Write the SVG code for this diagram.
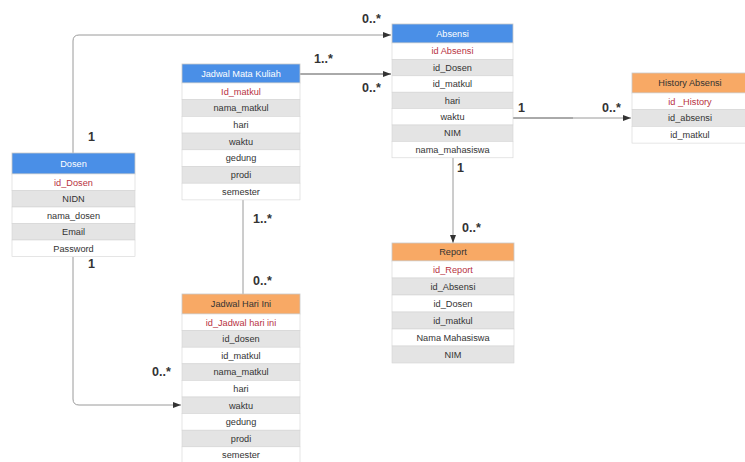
<svg xmlns="http://www.w3.org/2000/svg" width="745" height="462" viewBox="0 0 745 462">
<style>
  .hdrB{fill:#4a8fe7;stroke:#c8c8c8;stroke-width:0.8}
  .hdrO{fill:#f8a965;stroke:#c8c8c8;stroke-width:0.8}
  .rw{fill:#ffffff;stroke:#d4d4d4;stroke-width:0.6}
  .rg{fill:#e4e4e4;stroke:#d4d4d4;stroke-width:0.6}
  .t{font-family:"Liberation Sans",Arial,sans-serif;font-size:9.2px;fill:#333;text-anchor:middle}
  .k{fill:#b8323f}
  .hw{fill:#ffffff}
  .lbl{font-family:"Liberation Sans",Arial,sans-serif;font-size:12.5px;font-weight:bold;fill:#333}
  .ln{fill:none;stroke:#555;stroke-width:1}
  .lnl{fill:none;stroke:#9a9a9a;stroke-width:1}
</style>
<defs>
  <marker id="arr" viewBox="0 0 8 6" refX="8" refY="3" markerWidth="8" markerHeight="6" markerUnits="userSpaceOnUse" orient="auto">
    <path d="M0,0 L8,3 L0,6 Z" fill="#333"/>
  </marker>
</defs>
<rect width="745" height="462" fill="#ffffff"/>

<g id="connectors">
  <path class="lnl" d="M73,153 V41 Q73,35 79,35 H391" marker-end="url(#arr)"/>
  <path class="ln" d="M300,74 H391" marker-end="url(#arr)"/>
  <path class="ln" d="M513,118 H573"/>
  <path class="lnl" d="M573,118 H631" marker-end="url(#arr)"/>
  <path class="lnl" d="M453,158 V243" marker-end="url(#arr)"/>
  <path class="lnl" d="M243,200 V294"/>
  <path class="lnl" d="M73,257 V399 Q73,405 79,405 H181" marker-end="url(#arr)"/>
  <text class="lbl" x="362" y="23">0..*</text>
  <text class="lbl" x="314" y="63">1..*</text>
  <text class="lbl" x="362" y="92">0..*</text>
  <text class="lbl" x="88" y="141">1</text>
  <text class="lbl" x="518" y="112">1</text>
  <text class="lbl" x="602" y="112">0..*</text>
  <text class="lbl" x="457" y="172">1</text>
  <text class="lbl" x="462" y="232">0..*</text>
  <text class="lbl" x="253" y="223">1..*</text>
  <text class="lbl" x="253" y="285">0..*</text>
  <text class="lbl" x="88" y="268">1</text>
  <text class="lbl" x="152" y="376">0..*</text>
</g>

<g id="dosen">
  <rect class="hdrB" x="12" y="153" width="123" height="21"/>
  <text class="t hw" x="73.5" y="166.5">Dosen</text>
  <rect class="rw" x="12" y="174" width="123" height="16.5"/>
  <text class="t k" x="73.5" y="185.5">id_Dosen</text>
  <rect class="rg" x="12" y="190.5" width="123" height="16.5"/>
  <text class="t" x="73.5" y="202">NIDN</text>
  <rect class="rw" x="12" y="207" width="123" height="16.5"/>
  <text class="t" x="73.5" y="218.5">nama_dosen</text>
  <rect class="rg" x="12" y="223.5" width="123" height="16.5"/>
  <text class="t" x="73.5" y="235">Email</text>
  <rect class="rw" x="12" y="240" width="123" height="16.5"/>
  <text class="t" x="73.5" y="251.5">Password</text>
</g>

<g id="jadwal-mata-kuliah">
  <rect class="hdrB" x="182" y="64" width="118" height="19"/>
  <text class="t hw" x="241" y="76.5">Jadwal Mata Kuliah</text>
  <rect class="rw" x="182" y="83" width="118" height="16.7"/>
  <text class="t k" x="241" y="94.5">Id_matkul</text>
  <rect class="rg" x="182" y="99.7" width="118" height="16.7"/>
  <text class="t" x="241" y="111.2">nama_matkul</text>
  <rect class="rw" x="182" y="116.4" width="118" height="16.7"/>
  <text class="t" x="241" y="127.9">hari</text>
  <rect class="rg" x="182" y="133.1" width="118" height="16.7"/>
  <text class="t" x="241" y="144.6">waktu</text>
  <rect class="rw" x="182" y="149.8" width="118" height="16.7"/>
  <text class="t" x="241" y="161.3">gedung</text>
  <rect class="rg" x="182" y="166.5" width="118" height="16.7"/>
  <text class="t" x="241" y="178">prodi</text>
  <rect class="rw" x="182" y="183.2" width="118" height="16.7"/>
  <text class="t" x="241" y="194.7">semester</text>
</g>

<g id="absensi">
  <rect class="hdrB" x="392" y="24" width="121" height="19"/>
  <text class="t hw" x="452.5" y="36.5">Absensi</text>
  <rect class="rw" x="392" y="43" width="121" height="16.4"/>
  <text class="t k" x="452.5" y="54.4">id Absensi</text>
  <rect class="rg" x="392" y="59.4" width="121" height="16.4"/>
  <text class="t" x="452.5" y="70.8">id_Dosen</text>
  <rect class="rw" x="392" y="75.8" width="121" height="16.4"/>
  <text class="t" x="452.5" y="87.2">id_matkul</text>
  <rect class="rg" x="392" y="92.2" width="121" height="16.4"/>
  <text class="t" x="452.5" y="103.6">hari</text>
  <rect class="rw" x="392" y="108.6" width="121" height="16.4"/>
  <text class="t" x="452.5" y="120">waktu</text>
  <rect class="rg" x="392" y="125" width="121" height="16.4"/>
  <text class="t" x="452.5" y="136.4">NIM</text>
  <rect class="rw" x="392" y="141.4" width="121" height="16.4"/>
  <text class="t" x="452.5" y="152.8">nama_mahasiswa</text>
</g>

<g id="history-absensi">
  <rect class="hdrO" x="632" y="73" width="117" height="20"/>
  <text class="t" x="690" y="86">History Absensi</text>
  <rect class="rw" x="632" y="93" width="117" height="16.7"/>
  <text class="t k" x="690" y="104.5">id _History</text>
  <rect class="rg" x="632" y="109.7" width="117" height="16.7"/>
  <text class="t" x="690" y="121.2">id_absensi</text>
  <rect class="rw" x="632" y="126.4" width="117" height="16.7"/>
  <text class="t" x="690" y="137.9">id_matkul</text>
</g>

<g id="report">
  <rect class="hdrO" x="392" y="243" width="122" height="18"/>
  <text class="t" x="453" y="255">Report</text>
  <rect class="rw" x="392" y="261" width="122" height="17"/>
  <text class="t k" x="453" y="272.8">id_Report</text>
  <rect class="rg" x="392" y="278" width="122" height="17"/>
  <text class="t" x="453" y="289.8">id_Absensi</text>
  <rect class="rw" x="392" y="295" width="122" height="17"/>
  <text class="t" x="453" y="306.8">id_Dosen</text>
  <rect class="rg" x="392" y="312" width="122" height="17"/>
  <text class="t" x="453" y="323.8">id_matkul</text>
  <rect class="rw" x="392" y="329" width="122" height="17"/>
  <text class="t" x="453" y="340.8">Nama Mahasiswa</text>
  <rect class="rg" x="392" y="346" width="122" height="17"/>
  <text class="t" x="453" y="357.8">NIM</text>
</g>

<g id="jadwal-hari-ini">
  <rect class="hdrO" x="182" y="294" width="118" height="20"/>
  <text class="t" x="241" y="307">Jadwal Hari Ini</text>
  <rect class="rw" x="182" y="314" width="118" height="16.6"/>
  <text class="t k" x="241" y="325.5">id_Jadwal hari ini</text>
  <rect class="rg" x="182" y="330.6" width="118" height="16.6"/>
  <text class="t" x="241" y="342.1">id_dosen</text>
  <rect class="rw" x="182" y="347.2" width="118" height="16.6"/>
  <text class="t" x="241" y="358.7">id_matkul</text>
  <rect class="rg" x="182" y="363.8" width="118" height="16.6"/>
  <text class="t" x="241" y="375.3">nama_matkul</text>
  <rect class="rw" x="182" y="380.4" width="118" height="16.6"/>
  <text class="t" x="241" y="391.9">hari</text>
  <rect class="rg" x="182" y="397" width="118" height="16.6"/>
  <text class="t" x="241" y="408.5">waktu</text>
  <rect class="rw" x="182" y="413.6" width="118" height="16.6"/>
  <text class="t" x="241" y="425.1">gedung</text>
  <rect class="rg" x="182" y="430.2" width="118" height="16.6"/>
  <text class="t" x="241" y="441.7">prodi</text>
  <rect class="rw" x="182" y="446.8" width="118" height="16.6"/>
  <text class="t" x="241" y="458.3">semester</text>
</g>
</svg>
